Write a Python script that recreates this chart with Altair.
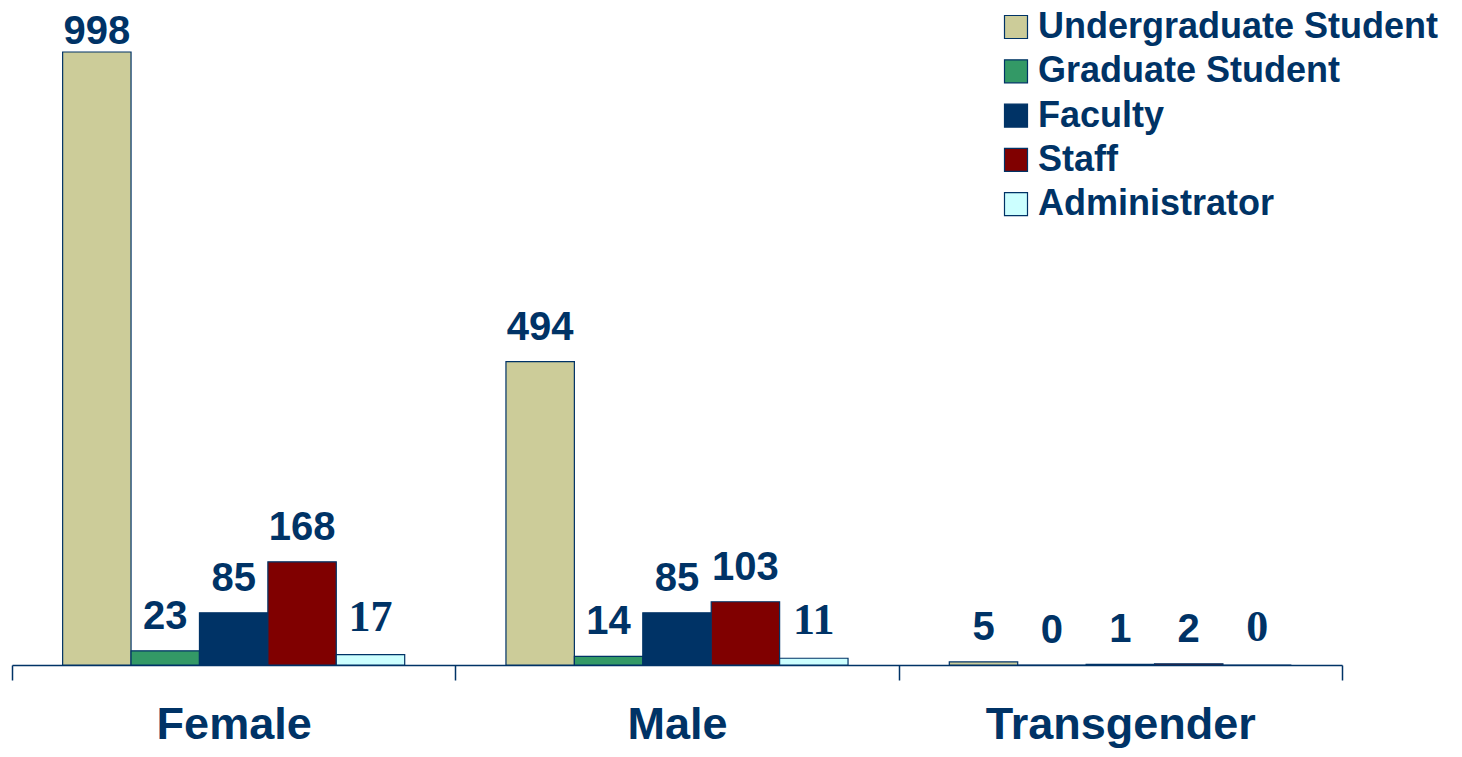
import altair as alt
import pandas as pd

genders = ["Female", "Male", "Transgender"]
roles = ["Undergraduate Student", "Graduate Student", "Faculty", "Staff", "Administrator"]
female = [998, 23, 85, 168, 17]
male = [494, 14, 85, 103, 11]
trans = [5, 0, 1, 2, 0]
colors = ["#CCCC99", "#339966", "#003366", "#800000", "#CCFFFF"]

NAVY = "#003366"

rows = []
for g, vals in zip(genders, [female, male, trans]):
    for r, v in zip(roles, vals):
        rows.append({"gender": g, "role": r, "count": v})
df = pd.DataFrame(rows)

x_enc = alt.X(
    "gender:N", sort=genders,
    scale=alt.Scale(paddingInner=0, paddingOuter=0),
    axis=alt.Axis(
        title=None, labelAngle=0, tickBand="extent",
        labelFont="Liberation Sans", labelFontWeight="bold", labelFontSize=45,
        labelColor=NAVY, labelPadding=22, tickSize=15, tickColor=NAVY,
        tickWidth=1.5, domainColor=NAVY, domainWidth=1.5, grid=False,
        labelLimit=500,
    ),
)
xo_enc = alt.XOffset("role:N", sort=roles, scale=alt.Scale(paddingInner=0, paddingOuter=0.74))
y_enc = alt.Y("count:Q", scale=alt.Scale(domain=[0, 1066.4], nice=False), axis=None)

base = alt.Chart(df).encode(x=x_enc, xOffset=xo_enc, y=y_enc)

bars = base.mark_bar(stroke=NAVY, strokeWidth=1.2).encode(
    color=alt.Color(
        "role:N", sort=roles,
        scale=alt.Scale(domain=roles, range=colors),
        legend=alt.Legend(
            title=None, orient="none", legendX=986, legendY=-1,
            symbolType="square", symbolSize=529, symbolStrokeColor=NAVY,
            symbolStrokeWidth=1.2, symbolOpacity=1,
            labelFont="Liberation Sans", labelFontWeight="bold",
            labelFontSize=36, labelColor=NAVY, labelOffset=4,
            rowPadding=8.3, labelLimit=600,
        ),
    )
)

sans_style = dict(font="Liberation Sans", fontWeight="bold", fontSize=40, color=NAVY, baseline="alphabetic")

text_sans = base.mark_text(dy=-22, **sans_style).encode(text="count:Q").transform_filter(
    (alt.datum.role != "Administrator") & (alt.datum.count < 900)
)
text_top = base.mark_text(dy=-8, **sans_style).encode(text="count:Q").transform_filter(
    (alt.datum.role != "Administrator") & (alt.datum.count >= 900)
)
text_serif = base.mark_text(
    font="Liberation Serif", fontWeight="bold", fontSize=44, color=NAVY,
    baseline="alphabetic", dy=-24,
).encode(text="count:Q").transform_filter(alt.datum.role == "Administrator")

chart = (
    alt.layer(bars, text_sans, text_top, text_serif)
    .properties(
        width=1330, height=655,
        autosize=alt.AutoSizeParams(type="none"),
        padding={"left": 4, "top": 2, "right": 112, "bottom": 87},
    )
    .configure(background="white")
    .configure_view(stroke=None)
)

chart.save("out.html", embed_options={"renderer": "svg", "actions": False})
